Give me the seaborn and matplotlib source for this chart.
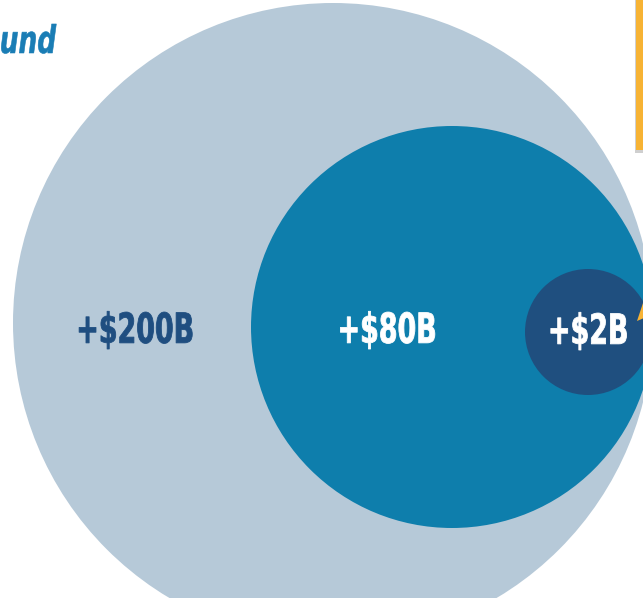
import matplotlib
matplotlib.use("Agg")
import matplotlib.pyplot as plt
import seaborn as sns
from matplotlib.patches import Circle, Rectangle, Polygon
from matplotlib.patheffects import AbstractPathEffect
from matplotlib.transforms import Affine2D

# Data
labels = ["+$200B", "+$80B", "+$2B"]
values = [200, 80, 2]
title_fragment = "und"

# Layout (pixel coordinates, y downwards)
centers = [(333, 323), (452, 327), (588, 332)]
radii = [320, 201, 63]
fills = ["#b6c9d8", "#0e7eac", "#1f4f7f"]
text_colors = ["#1f4e80", "#ffffff", "#ffffff"]
text_pos = [(135, 331), (387, 331), (588, 332)]


class Squeeze(AbstractPathEffect):
    # reshape glyphs into a tall condensed look (no condensed font installed)
    def __init__(self, sx=0.66, sy=1.0, anchor="center", lw=0.0):
        super().__init__()
        self.sx = sx
        self.sy = sy
        self.anchor = anchor
        self.lw = lw

    def draw_path(self, renderer, gc, tpath, affine, rgbFace=None):
        ext = tpath.get_extents(affine)
        if self.anchor == "left":
            x0, y0 = ext.x0, ext.y0
        else:
            x0, y0 = (ext.x0 + ext.x1) / 2, (ext.y0 + ext.y1) / 2
        sq = (Affine2D().translate(-x0, -y0).scale(self.sx, self.sy)
              .translate(x0, y0))
        gc0 = renderer.new_gc()
        gc0.copy_properties(gc)
        if self.lw > 0:
            gc0.set_linewidth(self.lw)
            gc0.set_foreground(rgbFace)
        renderer.draw_path(gc0, tpath, affine + sq, rgbFace)
        gc0.restore()


sns.set_theme(style="white")
plt.rcParams["font.family"] = ["DejaVu Sans"]

fig = plt.figure(figsize=(6.43, 5.98), dpi=100)
ax = fig.add_axes([0, 0, 1, 1])
ax.set_xlim(0, 643)
ax.set_ylim(598, 0)
ax.set_aspect("equal")
ax.axis("off")

for (cx, cy), r, c in zip(centers, radii, fills):
    ax.add_patch(Circle((cx, cy), r, facecolor=c, edgecolor="none"))

for lab, (tx, ty), tc in zip(labels, text_pos, text_colors):
    ax.text(tx, ty, lab, color=tc, fontsize=22, fontweight="bold",
            ha="center", va="center",
            path_effects=[Squeeze(0.88, 1.36, lw=0.6)])

# orange callout box on the right (cropped) with a soft shadow
ax.add_patch(Rectangle((634.5, -5), 20, 157.5, facecolor="#b0b0b0",
                       edgecolor="none", alpha=0.6))
ax.add_patch(Rectangle((636, -5), 20, 155, facecolor="#f7b334",
                       edgecolor="none"))
ax.add_patch(Polygon([(637, 321), (644, 300), (644, 318)],
                     facecolor="#f7b334", edgecolor="none"))

# cropped heading
ax.text(-1, 53, title_fragment, color="#1a7db5", fontsize=27.5,
        fontweight="bold", fontstyle="italic", ha="left", va="baseline",
        path_effects=[Squeeze(0.69, anchor="left", lw=0.4)])

fig.savefig("out.png", dpi=100)
